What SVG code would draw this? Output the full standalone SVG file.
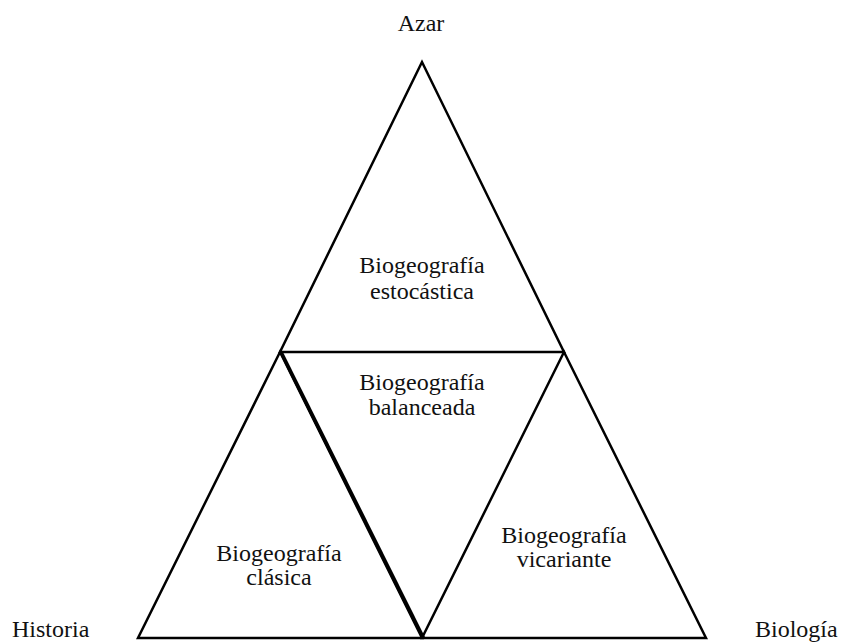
<svg xmlns="http://www.w3.org/2000/svg" width="845" height="643" viewBox="0 0 845 643">
<style>
  .tri{fill:none;stroke:#000;stroke-width:2.5;stroke-linejoin:miter}
  text{font-family:'Liberation Serif','Times New Roman',serif;font-size:24px;fill:#111}
  .t{text-anchor:middle}
</style>
<rect width="845" height="643" fill="#fff"/>
<g id="edges">
  <polygon class="tri" points="422,62 280,352 564,352"/>
  <polygon class="tri" points="280,352 138,638 422,638"/>
  <polygon class="tri" points="564,352 422,638 706,638"/>
  <line x1="281" y1="352" x2="423.5" y2="638" stroke="#000" stroke-width="3.5"/>
</g>
<g id="estocastica">
  <text class="t" x="422" y="273">Biogeografía</text>
  <text class="t" x="422" y="299">estocástica</text>
</g>
<g id="balanceada">
  <text class="t" x="422" y="390">Biogeografía</text>
  <text class="t" x="422" y="415">balanceada</text>
</g>
<g id="clasica">
  <text class="t" x="279" y="561">Biogeografía</text>
  <text class="t" x="279" y="585">clásica</text>
</g>
<g id="vicariante">
  <text class="t" x="564" y="543">Biogeografía</text>
  <text class="t" x="564" y="567">vicariante</text>
</g>
<g id="azar"><text class="t" x="421" y="31">Azar</text></g>
<g id="historia"><text x="12" y="637">Historia</text></g>
<g id="biologia"><text x="755" y="637">Biología</text></g>
</svg>
